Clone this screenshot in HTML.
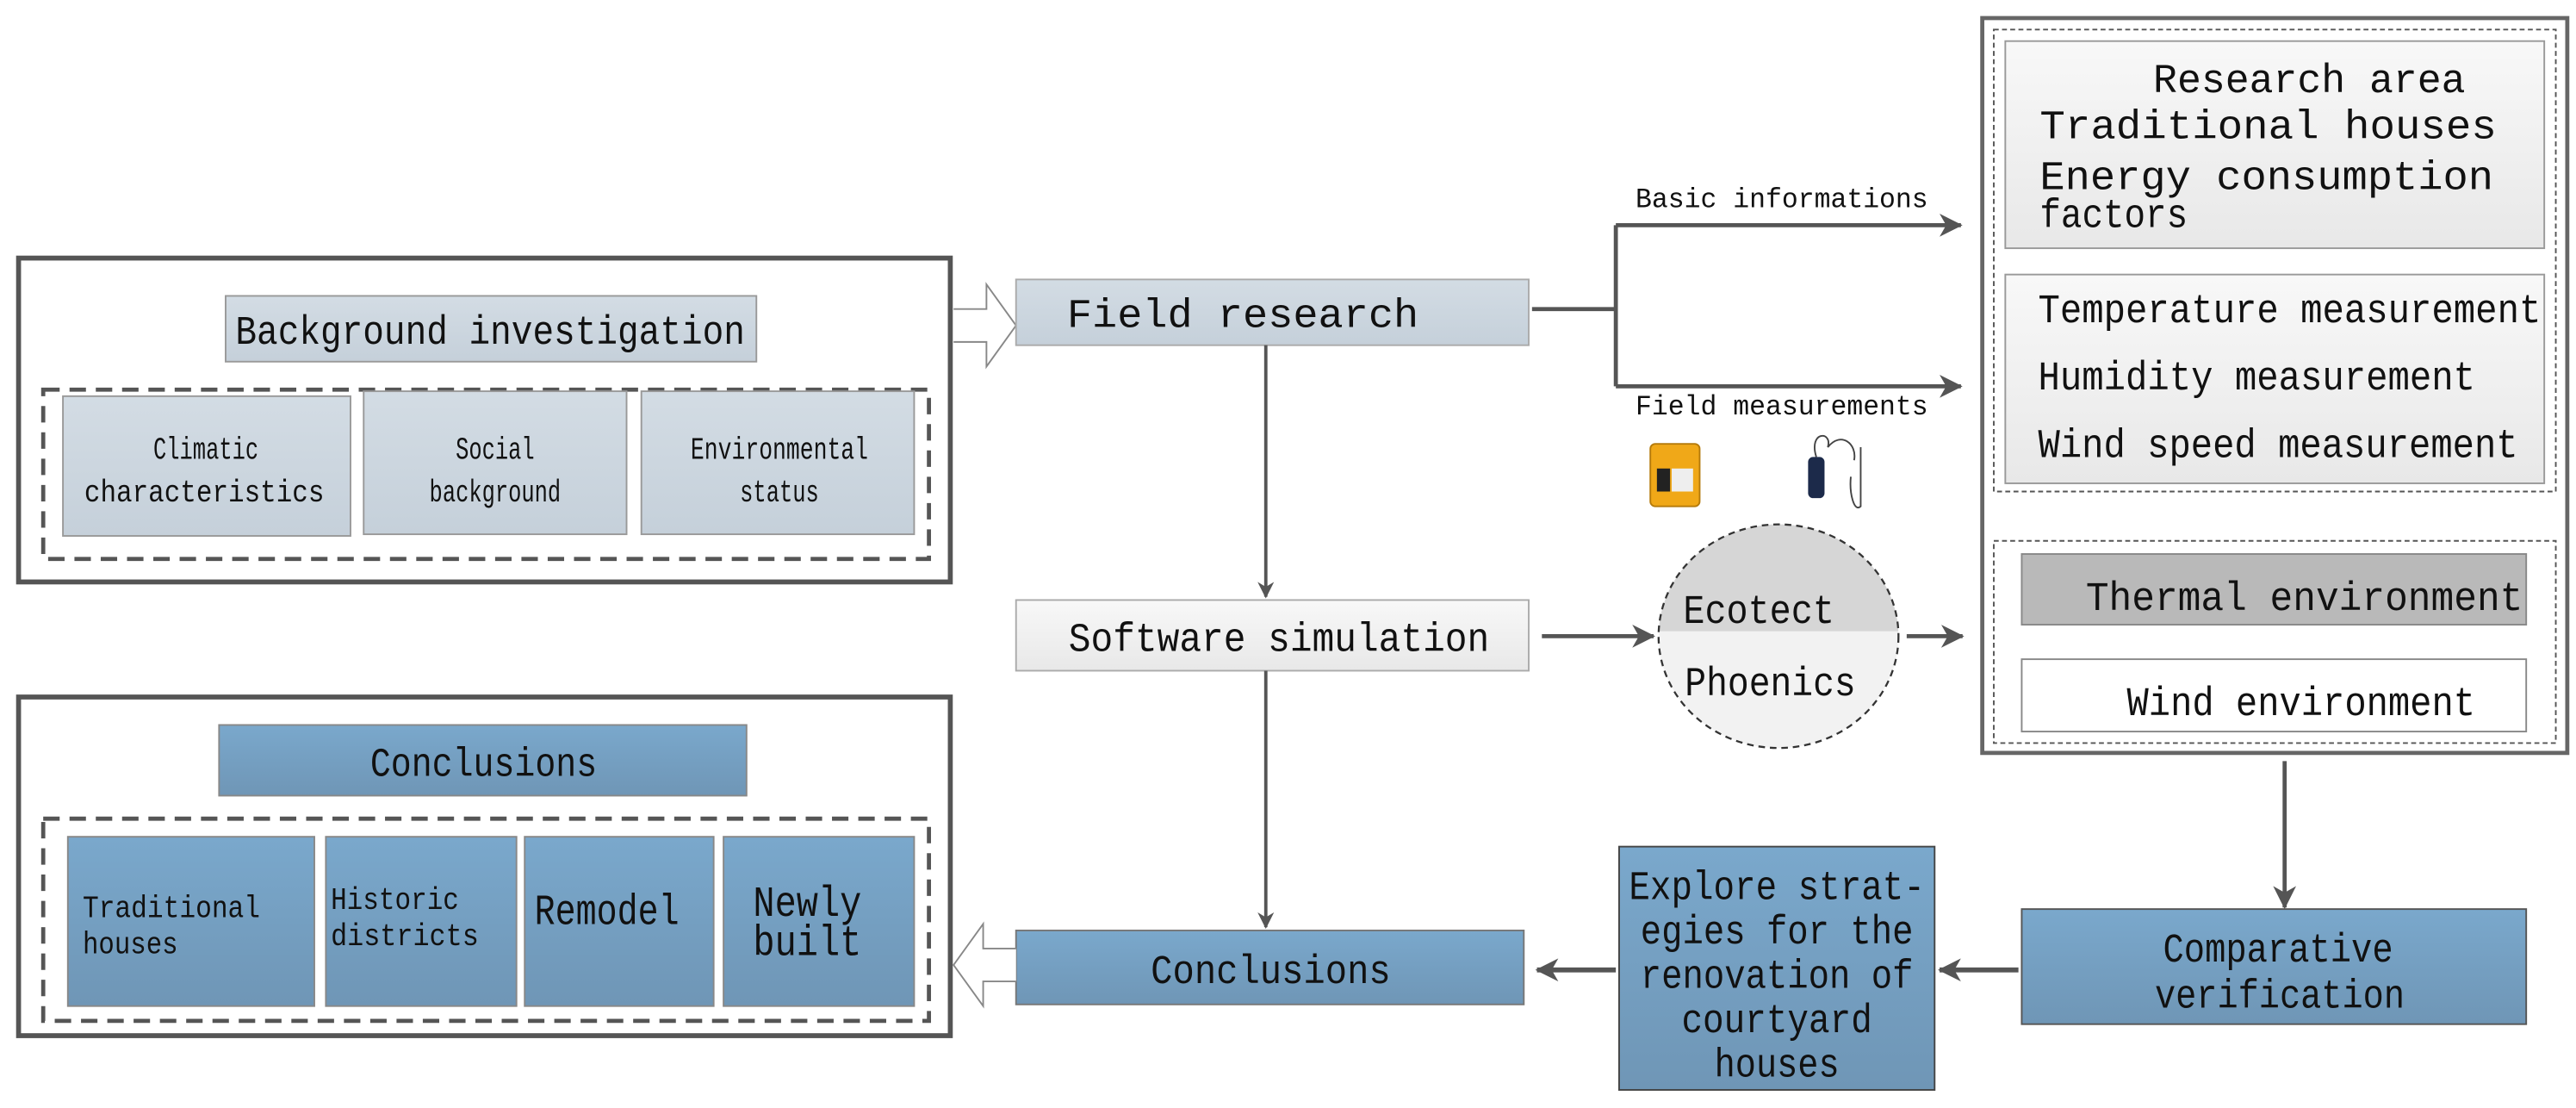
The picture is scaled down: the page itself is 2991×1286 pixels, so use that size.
<!DOCTYPE html>
<html><head><meta charset="utf-8"><style>
html,body{margin:0;padding:0;background:#fff}
svg{display:block}
text{font-family:"Liberation Mono","DejaVu Sans Mono",monospace;fill:#111}
</style></head><body>
<svg width="2991" height="1286" viewBox="0 0 1567 674" xmlns="http://www.w3.org/2000/svg">
<defs>
<linearGradient id="gb" x1="0" y1="0" x2="0" y2="1"><stop offset="0" stop-color="#7aa8cc"/><stop offset="1" stop-color="#6f96b6"/></linearGradient>
<linearGradient id="gl" x1="0" y1="0" x2="0" y2="1"><stop offset="0" stop-color="#d3dce4"/><stop offset="1" stop-color="#c5d0da"/></linearGradient>
<linearGradient id="gg" x1="0" y1="0" x2="0" y2="1"><stop offset="0" stop-color="#f8f8f8"/><stop offset="1" stop-color="#e8e8e8"/></linearGradient>
<marker id="ah" markerWidth="10" markerHeight="10" refX="9" refY="5" orient="auto" markerUnits="userSpaceOnUse"><path d="M0,0 L10,5 L0,10 L3,5 Z" fill="#555"/></marker>
<marker id="ah2" markerWidth="14" markerHeight="14" refX="13" refY="7" orient="auto" markerUnits="userSpaceOnUse"><path d="M0,0 L14,7 L0,14 L4,7 Z" fill="#555"/></marker>
</defs>

<rect x="11" y="157" width="567" height="197" fill="#fff" stroke="#555" stroke-width="3"/>
<rect x="137" y="180" width="323" height="40" fill="url(#gl)" stroke="#999" stroke-width="1"/>
<text x="298" y="209" font-size="25" text-anchor="middle" textLength="310" lengthAdjust="spacingAndGlyphs">Background investigation</text>
<rect x="26" y="237" width="539" height="103" fill="none" stroke="#555" stroke-width="2.5" stroke-dasharray="10,6"/>
<rect x="38" y="241" width="175" height="85" fill="url(#gl)" stroke="#999"/>
<rect x="221" y="238" width="160" height="87" fill="url(#gl)" stroke="#999"/>
<rect x="390" y="238" width="166" height="87" fill="url(#gl)" stroke="#999"/>
<text x="125" y="279" font-size="19" text-anchor="middle" textLength="64" lengthAdjust="spacingAndGlyphs">Climatic</text>
<text x="124" y="305" font-size="19" text-anchor="middle" textLength="146" lengthAdjust="spacingAndGlyphs">characteristics</text>
<text x="301" y="279" font-size="19" text-anchor="middle" textLength="48" lengthAdjust="spacingAndGlyphs">Social</text>
<text x="301" y="305" font-size="19" text-anchor="middle" textLength="80" lengthAdjust="spacingAndGlyphs">background</text>
<text x="474" y="279" font-size="19" text-anchor="middle" textLength="108" lengthAdjust="spacingAndGlyphs">Environmental</text>
<text x="474" y="305" font-size="19" text-anchor="middle" textLength="48" lengthAdjust="spacingAndGlyphs">status</text>

<path d="M580,188 L600,188 L600,173 L618,198 L600,223 L600,208 L580,208" fill="#fff" stroke="#888" stroke-width="1"/>

<rect x="618" y="170" width="312" height="40" fill="url(#gl)" stroke="#aaa"/>
<text x="756" y="199" font-size="25" text-anchor="middle" textLength="214" lengthAdjust="spacingAndGlyphs">Field research</text>
<path d="M932,188 L983,188 M983,137 L983,235" stroke="#555" stroke-width="2.5" fill="none"/>
<line x1="983" y1="137" x2="1193" y2="137" stroke="#555" stroke-width="2.5" marker-end="url(#ah2)"/>
<line x1="983" y1="235" x2="1193" y2="235" stroke="#555" stroke-width="2.5" marker-end="url(#ah2)"/>
<text x="995" y="126" font-size="17" textLength="178" lengthAdjust="spacingAndGlyphs">Basic informations</text>
<text x="995" y="252" font-size="17" textLength="178" lengthAdjust="spacingAndGlyphs">Field measurements</text>

<rect x="1004" y="270" width="30" height="38" rx="3" fill="#f0a818" stroke="#b57a0a"/>
<rect x="1008" y="285" width="8" height="14" fill="#222"/>
<rect x="1017" y="285" width="13" height="14" fill="#eee"/>
<rect x="1100" y="278" width="10" height="25" rx="3" fill="#1c2a4a"/>
<path d="M1105,278 C1100,262 1115,262 1112,272 C1120,262 1130,270 1128,280 M1132,272 L1132,308 C1128,312 1125,300 1126,290" stroke="#444" stroke-width="1" fill="none"/>

<line x1="770" y1="210" x2="770" y2="363" stroke="#555" stroke-width="2" marker-end="url(#ah)"/>
<rect x="618" y="365" width="312" height="43" fill="url(#gg)" stroke="#aaa"/>
<text x="778" y="396" font-size="25" text-anchor="middle" textLength="256" lengthAdjust="spacingAndGlyphs">Software simulation</text>
<line x1="938" y1="387" x2="1006" y2="387" stroke="#555" stroke-width="2.5" marker-end="url(#ah2)"/>
<clipPath id="ct"><rect x="1000" y="310" width="170" height="74"/></clipPath>
<ellipse cx="1082" cy="387" rx="73" ry="68" fill="#f2f2f2"/>
<ellipse cx="1082" cy="387" rx="73" ry="68" fill="#d6d6d6" clip-path="url(#ct)"/>
<ellipse cx="1082" cy="387" rx="73" ry="68" fill="none" stroke="#333" stroke-width="1.2" stroke-dasharray="4,3"/>
<text x="1070" y="379" font-size="25" text-anchor="middle" textLength="92" lengthAdjust="spacingAndGlyphs">Ecotect</text>
<text x="1077" y="423" font-size="25" text-anchor="middle" textLength="104" lengthAdjust="spacingAndGlyphs">Phoenics</text>
<line x1="1160" y1="387" x2="1194" y2="387" stroke="#555" stroke-width="2.5" marker-end="url(#ah2)"/>

<rect x="1206" y="11" width="356" height="447" fill="#fff" stroke="#666" stroke-width="2.5"/>
<rect x="1213" y="18" width="342" height="281" fill="none" stroke="#555" stroke-width="1" stroke-dasharray="3,2"/>
<rect x="1220" y="25" width="328" height="126" fill="url(#gg)" stroke="#999"/>
<text x="1405" y="56" font-size="25" text-anchor="middle" textLength="190" lengthAdjust="spacingAndGlyphs">Research area</text>
<text x="1380" y="84" font-size="25" text-anchor="middle" textLength="278" lengthAdjust="spacingAndGlyphs">Traditional houses</text>
<text x="1241" y="115" font-size="25" textLength="276" lengthAdjust="spacingAndGlyphs">Energy consumption</text>
<text x="1241" y="138" font-size="25" textLength="90" lengthAdjust="spacingAndGlyphs">factors</text>
<rect x="1220" y="167" width="328" height="127" fill="url(#gg)" stroke="#999"/>
<text x="1240" y="196" font-size="25" textLength="306" lengthAdjust="spacingAndGlyphs">Temperature measurement</text>
<text x="1240" y="237" font-size="25" textLength="266" lengthAdjust="spacingAndGlyphs">Humidity measurement</text>
<text x="1240" y="278" font-size="25" textLength="292" lengthAdjust="spacingAndGlyphs">Wind speed measurement</text>
<rect x="1213" y="329" width="342" height="123" fill="none" stroke="#555" stroke-width="1" stroke-dasharray="3,2"/>
<rect x="1230" y="337" width="307" height="43" fill="#b9b9b9" stroke="#888"/>
<text x="1269" y="371" font-size="25" textLength="266" lengthAdjust="spacingAndGlyphs">Thermal environment</text>
<rect x="1230" y="401" width="307" height="44" fill="#fff" stroke="#888"/>
<text x="1294" y="435" font-size="25" textLength="212" lengthAdjust="spacingAndGlyphs">Wind environment</text>

<line x1="1390" y1="463" x2="1390" y2="552" stroke="#555" stroke-width="2.5" marker-end="url(#ah2)"/>
<rect x="1230" y="553" width="307" height="70" fill="url(#gb)" stroke="#555"/>
<text x="1386" y="585" font-size="25" text-anchor="middle" textLength="140" lengthAdjust="spacingAndGlyphs">Comparative</text>
<text x="1387" y="613" font-size="25" text-anchor="middle" textLength="152" lengthAdjust="spacingAndGlyphs">verification</text>
<line x1="1228" y1="590" x2="1180" y2="590" stroke="#555" stroke-width="3" marker-end="url(#ah2)"/>
<rect x="985" y="515" width="192" height="148" fill="url(#gb)" stroke="#444"/>
<text x="1081" y="547" font-size="25" text-anchor="middle" textLength="180" lengthAdjust="spacingAndGlyphs">Explore strat-</text>
<text x="1081" y="574" font-size="25" text-anchor="middle" textLength="166" lengthAdjust="spacingAndGlyphs">egies for the</text>
<text x="1081" y="601" font-size="25" text-anchor="middle" textLength="166" lengthAdjust="spacingAndGlyphs">renovation of</text>
<text x="1081" y="628" font-size="25" text-anchor="middle" textLength="116" lengthAdjust="spacingAndGlyphs">courtyard</text>
<text x="1081" y="655" font-size="25" text-anchor="middle" textLength="76" lengthAdjust="spacingAndGlyphs">houses</text>
<line x1="983" y1="590" x2="935" y2="590" stroke="#555" stroke-width="3" marker-end="url(#ah2)"/>

<line x1="770" y1="408" x2="770" y2="564" stroke="#555" stroke-width="2" marker-end="url(#ah)"/>
<rect x="618" y="566" width="309" height="45" fill="url(#gb)" stroke="#777"/>
<text x="773" y="598" font-size="25" text-anchor="middle" textLength="146" lengthAdjust="spacingAndGlyphs">Conclusions</text>
<path d="M618,577 L598,577 L598,562 L580,587 L598,612 L598,597 L618,597" fill="#fff" stroke="#888" stroke-width="1"/>

<rect x="11" y="424" width="567" height="206" fill="#fff" stroke="#555" stroke-width="3"/>
<rect x="133" y="441" width="321" height="43" fill="url(#gb)" stroke="#888"/>
<text x="294" y="472" font-size="25" text-anchor="middle" textLength="138" lengthAdjust="spacingAndGlyphs">Conclusions</text>
<rect x="26" y="498" width="539" height="123" fill="none" stroke="#555" stroke-width="2.5" stroke-dasharray="10,6"/>
<rect x="41" y="509" width="150" height="103" fill="url(#gb)" stroke="#888"/>
<rect x="198" y="509" width="116" height="103" fill="url(#gb)" stroke="#888"/>
<rect x="319" y="509" width="115" height="103" fill="url(#gb)" stroke="#888"/>
<rect x="440" y="509" width="116" height="103" fill="url(#gb)" stroke="#888"/>
<text x="50" y="558" font-size="19" textLength="108" lengthAdjust="spacingAndGlyphs">Traditional</text>
<text x="50" y="580" font-size="19" textLength="58" lengthAdjust="spacingAndGlyphs">houses</text>
<text x="201" y="553" font-size="19" textLength="78" lengthAdjust="spacingAndGlyphs">Historic</text>
<text x="201" y="575" font-size="19" textLength="90" lengthAdjust="spacingAndGlyphs">districts</text>
<text x="325" y="562" font-size="26" textLength="88" lengthAdjust="spacingAndGlyphs">Remodel</text>
<text x="458" y="557" font-size="26" textLength="66" lengthAdjust="spacingAndGlyphs">Newly</text>
<text x="458" y="581" font-size="26" textLength="66" lengthAdjust="spacingAndGlyphs">built</text>
</svg>
</body></html>
